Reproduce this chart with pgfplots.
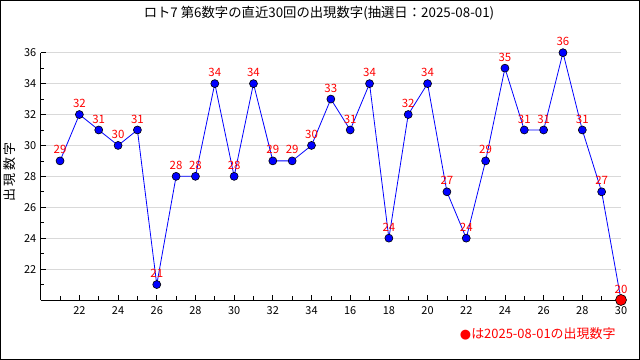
\documentclass[border=0pt]{standalone}
\usepackage{fontspec}
\setmainfont{Noto Sans CJK JP}
\newfontfamily\dejavu{DejaVu Sans}
\usepackage{pgfplots}
\pgfplotsset{compat=1.18}
\begin{document}
\begin{tikzpicture}
\useasboundingbox (0,0) rectangle (640bp,360bp);
\draw[line width=1bp] (0.5bp,0.5bp) rectangle (639.5bp,359.5bp);
\node at (319bp,347bp) {\fontsize{13.4}{14}\selectfont ロト7 第6数字の直近30回の出現数字(抽選日：2025-08-01)};
\node[rotate=90] at (10bp,188bp) {\fontsize{13}{13}\selectfont 出\kern2.5bp 現\kern2.5bp 数\kern2.5bp 字};
\node[anchor=east, text=red] at (619bp,26bp) {\fontsize{13}{13}\selectfont{\dejavu ●}は2025-08-01の出現数字};
\begin{axis}[
  at={(40.7bp,60bp)}, anchor=south west,
  scale only axis, width=580.3bp, height=247.3bp,
  xmin=0, xmax=30, ymin=20, ymax=36,
  axis lines*=left,
  axis line style={black, line width=0.8bp},
  clip=false,
  xtick={2,4,...,30},
  xticklabels={22,24,26,28,30,32,34,16,18,20,22,24,26,28,30},
  minor xtick={1,3,...,29},
  ytick={22,24,...,36},
  minor ytick={21,23,...,35},
  tick align=inside,
  major tick length=5bp, minor tick length=3.5bp,
  tick style={black, line width=0.7bp},
  ymajorgrids,
  major grid style={draw=black!15, line width=0.8bp},
  ticklabel style={font=\fontsize{11}{11}\selectfont},
  /pgf/number format/assume math mode=true,
  xticklabel style={yshift=-3bp},
  yticklabel style={xshift=-1bp},
]
\addplot[blue, line width=0.8bp, mark=*, mark size=4bp,
  mark options={fill=blue, draw=black, line width=0.6bp},
  nodes near coords,
  every node near coord/.append style={text=red, anchor=center, yshift=11bp, font=\fontsize{11.5}{11.5}\selectfont, inner sep=0pt},
] coordinates {
(1,29)(2,32)(3,31)(4,30)(5,31)(6,21)(7,28)(8,28)(9,34)(10,28)
(11,34)(12,29)(13,29)(14,30)(15,33)(16,31)(17,34)(18,24)(19,32)(20,34)
(21,27)(22,24)(23,29)(24,35)(25,31)(26,31)(27,36)(28,31)(29,27)(30,20)
};
\addplot[only marks, mark=*, mark size=5.5bp, mark options={fill=red, draw=black, line width=0.6bp}] coordinates {(30,20)};
\end{axis}
\end{tikzpicture}
\end{document}
